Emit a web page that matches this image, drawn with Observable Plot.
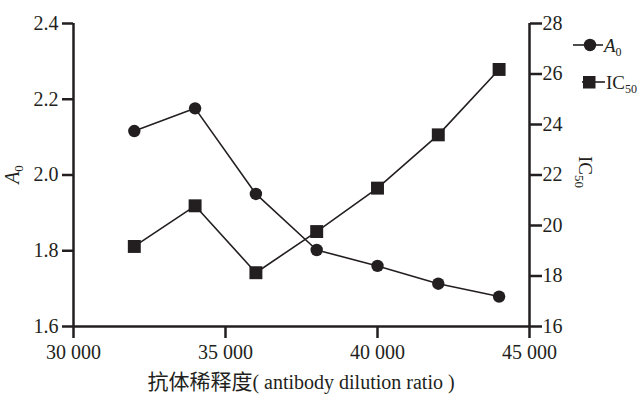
<!DOCTYPE html>
<html><head><meta charset="utf-8">
<script src="https://cdn.jsdelivr.net/npm/d3@7"></script>
<script src="https://cdn.jsdelivr.net/npm/@observablehq/plot@0.6"></script>
<style>
body{margin:0;background:#fff;overflow:hidden;}
svg text, svg tspan { font-family: "Liberation Serif", "Times New Roman", serif !important; }
svg tspan.cjk { font-family: "Noto Sans CJK SC", sans-serif !important; }
</style></head><body><div id="chart"></div>
<script>
const dilution = [32000, 34000, 36000, 38000, 40000, 42000, 44000];
const a0 = [2.116, 2.176, 1.950, 1.802, 1.760, 1.713, 1.679];
const ic50 = [19.17, 20.78, 18.13, 19.76, 21.48, 23.59, 26.18];
const xTicks = [30000, 35000, 40000, 45000];
const a0Ticks = [1.6, 1.8, 2.0, 2.2, 2.4];
const ic50Ticks = [16, 18, 20, 22, 24, 26, 28];
const xDomain = [30000, 45000];
const a0Domain = [1.6, 2.4];
const ic50Domain = [16, 28];
const xLabelCJK = "抗体稀释度";
const xLabelLatin = "( antibody dilution ratio )";

const toY = v => a0Domain[0] + (v - ic50Domain[0]) / (ic50Domain[1] - ic50Domain[0]) * (a0Domain[1] - a0Domain[0]);
const fromY = y => ic50Domain[0] + (y - a0Domain[0]) / (a0Domain[1] - a0Domain[0]) * (ic50Domain[1] - ic50Domain[0]);

const rowsA = dilution.map((d, i) => ({x: d, y: a0[i]}));
const rowsI = dilution.map((d, i) => ({x: d, y: toY(ic50[i])}));
const ink = "#231f20";
const fmtX = d => d3.format(",")(d).replace(",", " ");
const font = "'Liberation Serif', 'Times New Roman', serif";

const plot = Plot.plot({
  width: 638, height: 396,
  marginLeft: 73, marginRight: 109, marginTop: 23, marginBottom: 70,
  style: {fontFamily: font, fontSize: "20px", color: ink, background: "#fff", overflow: "visible"},
  x: {domain: xDomain},
  y: {domain: a0Domain},
  marks: [
    Plot.axisX(xTicks, {tickSize: 12, tickPadding: 6, strokeWidth: 2.5, tickFormat: fmtX, label: null, fontVariant: "normal"}),
    Plot.axisY(a0Ticks, {anchor: "left", tickSize: 11, tickPadding: 4, strokeWidth: 2.5, tickFormat: d3.format(".1f"), label: null, fontVariant: "normal"}),
    Plot.axisY(ic50Ticks.map(toY), {anchor: "right", tickSize: 12, tickPadding: 1, strokeWidth: 2.5, tickFormat: d => String(Math.round(fromY(d))), label: null, fontVariant: "normal"}),
    Plot.ruleY([a0Domain[0]], {stroke: ink, strokeWidth: 2.5}),
    Plot.ruleX([xDomain[0]], {stroke: ink, strokeWidth: 2.5}),
    Plot.ruleX([xDomain[1]], {stroke: ink, strokeWidth: 2.5}),
    Plot.line(rowsA, {x: "x", y: "y", stroke: ink, strokeWidth: 1.6}),
    Plot.line(rowsI, {x: "x", y: "y", stroke: ink, strokeWidth: 1.6}),
    Plot.dot(rowsA, {x: "x", y: "y", r: 6.2, fill: ink, symbol: "circle"}),
    Plot.dot(rowsI, {x: "x", y: "y", r: 7.3, fill: ink, symbol: "square"})
  ]
});

const svg = d3.select(plot);
const xs = plot.scale("x");
const ys = plot.scale("y");

// left axis label
const yl = svg.append("text")
  .attr("transform", `translate(19,${ys.apply(2.0)}) rotate(-90)`)
  .attr("text-anchor", "middle").attr("font-size", 20).attr("fill", ink);
yl.append("tspan").attr("font-style", "italic").text("A");
yl.append("tspan").attr("font-size", 13).attr("dy", 4).text("0");

// right axis label
const yr = svg.append("text")
  .attr("transform", `translate(579,172) rotate(90)`)
  .attr("text-anchor", "middle").attr("font-size", 19).attr("fill", ink);
yr.append("tspan").text("IC");
yr.append("tspan").attr("font-size", 13).attr("dy", 4).text("50");

// x axis label
const xl = svg.append("text").attr("x", (xs.apply(xDomain[0]) + xs.apply(xDomain[1])) / 2).attr("y", 389)
  .attr("text-anchor", "middle").attr("fill", ink);
xl.append("tspan").attr("class", "cjk").attr("font-size", 21).text(xLabelCJK);
xl.append("tspan").attr("font-size", 20).text(xLabelLatin);

// legend
const lg = svg.append("g").attr("fill", ink).attr("text-anchor", "start");
lg.append("line").attr("x1", 573).attr("x2", 603).attr("y1", 45).attr("y2", 45).attr("stroke", ink).attr("stroke-width", 1.6);
lg.append("circle").attr("cx", 590).attr("cy", 45).attr("r", 6.2);
const t1 = lg.append("text").attr("x", 604).attr("y", 52).attr("font-size", 19);
t1.append("tspan").attr("font-style", "italic").text("A");
t1.append("tspan").attr("font-size", 12).attr("dy", 4).text("0");
lg.append("line").attr("x1", 582).attr("x2", 605).attr("y1", 82).attr("y2", 82).attr("stroke", ink).attr("stroke-width", 1.6);
lg.append("rect").attr("x", 583).attr("y", 76).attr("width", 12.5).attr("height", 12.5);
const t2 = lg.append("text").attr("x", 606).attr("y", 89).attr("font-size", 19);
t2.append("tspan").text("IC");
t2.append("tspan").attr("font-size", 12).attr("dy", 4).text("50");

document.getElementById("chart").appendChild(plot);
</script></body></html>
